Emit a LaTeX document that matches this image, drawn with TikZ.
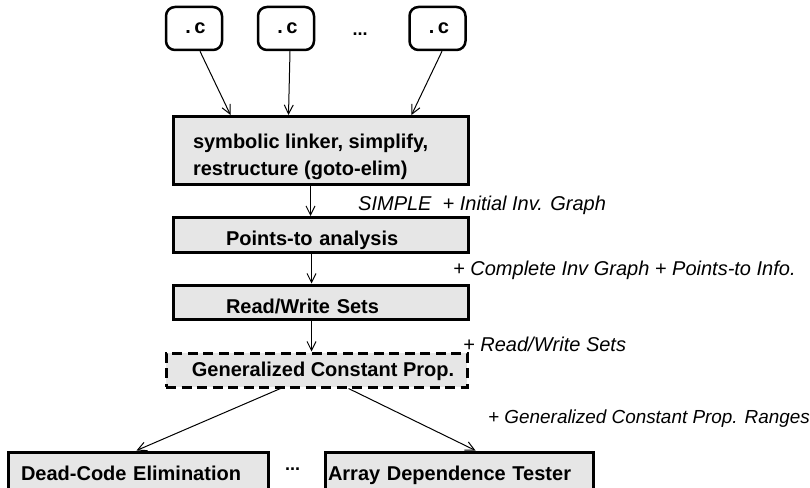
\documentclass[tikz,border=0pt]{standalone}
\usepackage{fontspec}
\setmainfont{Liberation Sans}
\newfontfamily\monofont{Liberation Mono}
\usetikzlibrary{arrows.meta,calc}
\definecolor{boxgray}{RGB}{230,230,230}
\tikzset{
  src/.style={draw, line width=2.5pt, rounded corners=9pt, minimum width=56pt, minimum height=43pt,
    font=\monofont\bfseries\fontsize{20}{22}\selectfont, inner sep=0pt},
  stage/.style={draw, line width=3pt, fill=boxgray, font=\bfseries\fontsize{20}{27}\selectfont, inner sep=0pt},
  dstage/.style={stage, dash pattern=on 10pt off 5.5pt},
  lab/.style={font=\itshape\fontsize{20}{22}\selectfont, anchor=base west, inner sep=0pt},
  dotsnode/.style={font=\bfseries\fontsize{18}{20}\selectfont, inner sep=0pt, anchor=base},
  flow/.style={-{Straight Barb[length=9pt,width=9pt]}, line width=1pt},
}
\begin{document}
\begin{tikzpicture}
\useasboundingbox (0,0) rectangle (810pt,-487pt);
% source files
\node[src] (c1) at (194pt,-28.5pt) {.c};
\node[src] (c2) at (286pt,-28.5pt) {.c};
\node[src] (c3) at (437.5pt,-28.5pt) {.c};
\node[dotsnode] (dots1) at (360pt,-36pt) {...};
% stages
\node[stage, minimum width=295pt, minimum height=68pt] (link) at (320.5pt,-150.5pt)
  {\makebox[255pt][l]{\raisebox{-5.6pt}[\height][\depth]{\begin{tabular}{@{}l@{}}symbolic linker, simplify,\\restructure (goto-elim)\end{tabular}}}};
\node[stage, minimum width=295pt, minimum height=35pt, text width=189pt, align=left,
      text height=24pt, text depth=4pt] (pts) at (320.5pt,-235pt)
  {Points-to analysis};
\node[stage, minimum width=295pt, minimum height=34pt, text width=189pt, align=left,
      text height=26pt, text depth=4pt] (rw) at (320.5pt,-302pt)
  {Read/Write Sets};
\node[dstage, minimum width=301pt, minimum height=34pt, text height=16pt, text depth=4pt] (gcp) at (316.5pt,-370pt)
  {\hspace*{13pt}Generalized Constant Prop.};
\node[stage, minimum width=260pt, minimum height=38pt, text width=234pt, align=left,
      text height=22pt, text depth=4pt] (dce) at (138pt,-471pt)
  {Dead-Code Elimination};
\node[stage, minimum width=268pt, minimum height=38pt, text width=262pt, align=left,
      text height=22pt, text depth=4pt] (adt) at (459pt,-471pt)
  {Array Dependence Tester};
\node[dotsnode] (dots2) at (292.5pt,-470pt) {...};
% connectors
\draw[flow] ($(c1.south)+(6pt,0)$) -- ($(link.north west)+(59pt,0)$);
\draw[flow] ($(c2.south)+(4pt,0)$) -- ($(link.north west)+(117pt,0)$);
\draw[flow] ($(c3.south)+(4.5pt,0)$) -- ($(link.north west)+(240pt,0)$);
\draw[flow] ($(link.south west)+(139pt,0)$) -- ($(pts.north west)+(139pt,0)$);
\draw[flow] ($(pts.south west)+(140pt,0)$) -- ($(rw.north west)+(140pt,0)$);
\draw[flow] ($(rw.south west)+(140pt,0)$) -- ($(gcp.north west)+(147pt,0)$);
\draw[flow] ($(gcp.south west)+(116pt,0)$) -- ($(dce.north west)+(130pt,0)$);
\draw[flow] ($(gcp.south west)+(184pt,0)$) -- ($(adt.north west)+(152pt,0)$);
% labels
\node[lab] (l1) at (358pt,-210pt) {SIMPLE\ \ + Initial Inv. Graph};
\node[lab] (l2) at (453pt,-275pt) {+ Complete Inv Graph + Points-to Info.};
\node[lab] (l3) at (463pt,-351pt) {+ Read/Write Sets};
\node[lab, font=\itshape\fontsize{18.9}{22}\selectfont] (l4) at (488pt,-423pt) {+ Generalized Constant Prop. Ranges};
\end{tikzpicture}
\end{document}
